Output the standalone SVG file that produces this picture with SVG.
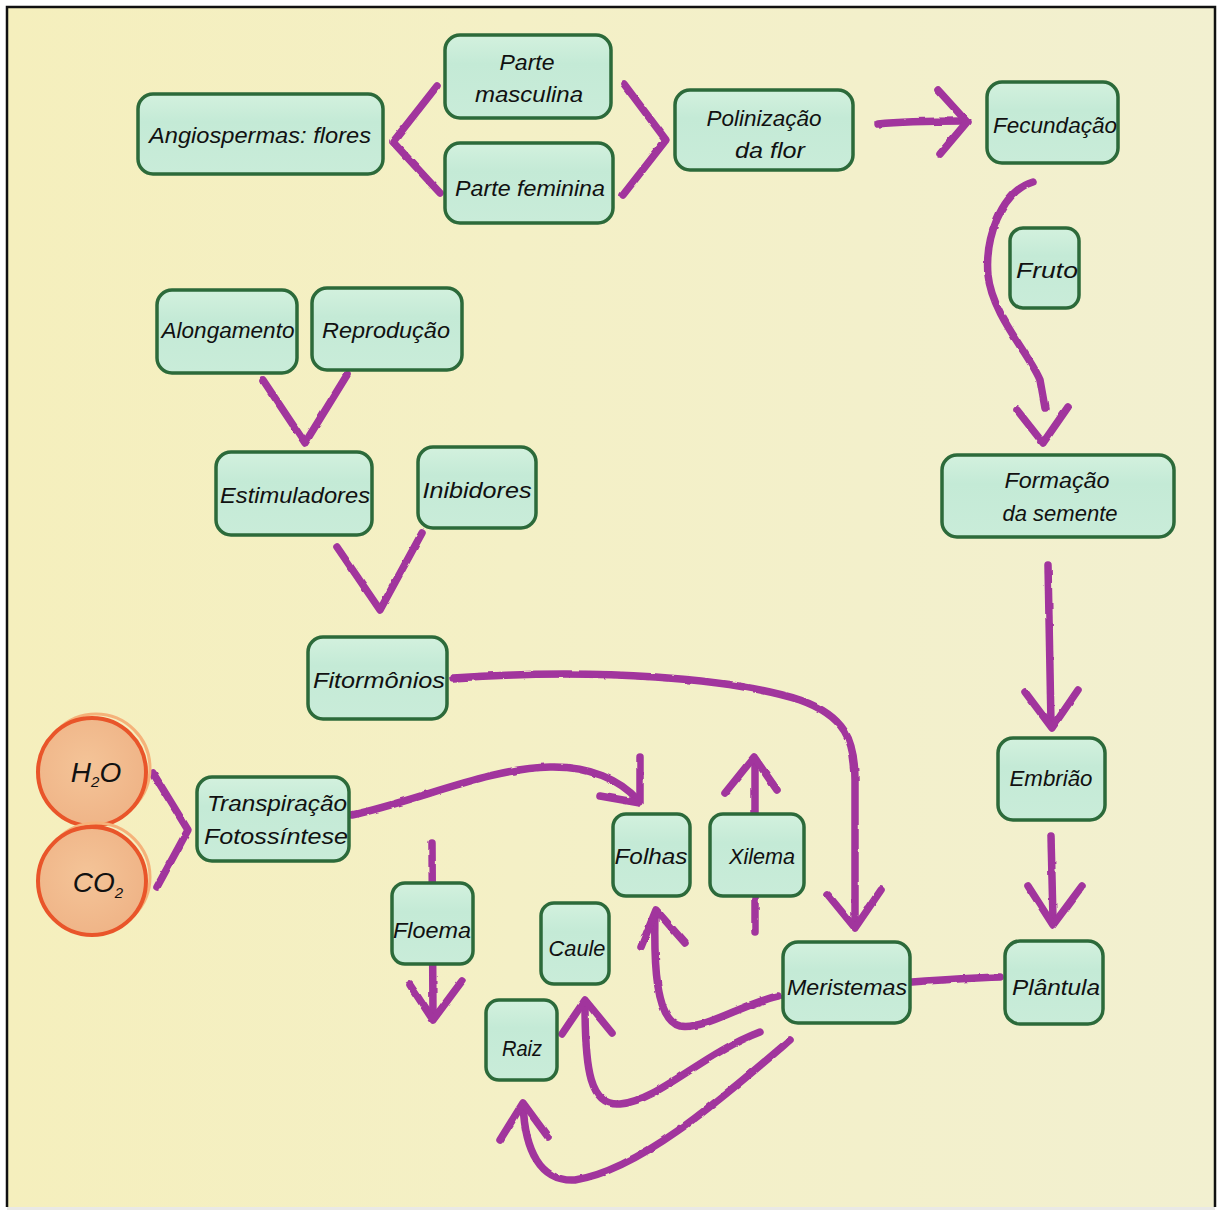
<svg xmlns="http://www.w3.org/2000/svg" width="1218" height="1210" viewBox="0 0 1218 1210">
  <defs>
    <linearGradient id="paper" x1="0" y1="0" x2="1" y2="0">
      <stop offset="0" stop-color="#f5efbd"/>
      <stop offset="0.42" stop-color="#f4f0c6"/>
      <stop offset="1" stop-color="#f2f0d0"/>
    </linearGradient>
    <linearGradient id="mint" x1="0" y1="0" x2="0" y2="1">
      <stop offset="0" stop-color="#d3f1de"/>
      <stop offset="0.35" stop-color="#c4ead6"/>
      <stop offset="1" stop-color="#c9ecd9"/>
    </linearGradient>
    <radialGradient id="peach" cx="0.45" cy="0.45" r="0.6">
      <stop offset="0" stop-color="#f4c498"/>
      <stop offset="1" stop-color="#efb386"/>
    </radialGradient>
    <filter id="rough" x="-5%" y="-5%" width="110%" height="110%">
      <feTurbulence type="fractalNoise" baseFrequency="0.09" numOctaves="2" seed="3"/>
      <feDisplacementMap in="SourceGraphic" scale="2.5" xChannelSelector="R" yChannelSelector="G"/>
    </filter>
  </defs>
  <style>
    .conn path { fill: none; stroke: #a1349d; stroke-width: 7.5; stroke-linecap: round; stroke-linejoin: round; }
    .node rect { fill: url(#mint); stroke: #2c6a3a; stroke-width: 3.5; }
    .node text, .gas text { font-family: "Liberation Sans", "DejaVu Sans", sans-serif; font-style: italic; font-size: 22px; fill: #111; text-anchor: middle; dominant-baseline: central; }
    .gas text { font-size: 28px; }
    .gas tspan.sub { font-size: 15px; }
    .gas circle.ring { fill: url(#peach); stroke: #e9552a; stroke-width: 4; }
    .gas circle.halo { fill: none; stroke: #f5b27a; stroke-width: 3; }
  </style>

  <!-- page -->
  <rect x="0" y="0" width="1218" height="1210" fill="#ffffff"/>
  <rect x="7" y="7" width="1208" height="1200" fill="url(#paper)"/>
  <rect x="7" y="1207" width="1208" height="3" fill="#e9e9e6"/>
  <path d="M7,1207 L7,7 L1215,7 L1215,1207" fill="none" stroke="#111" stroke-width="2.5"/>

  <!-- connectors -->
  <g id="connectors" class="conn" filter="url(#rough)">
    <path d="M437,86 L393,142 L440,193"/>
    <path d="M624,84 L666,140 L623,195"/>
    <path d="M878,124 C905,121 935,121 964,121"/>
    <path d="M938,90 L967,122 L940,154"/>
    <path d="M1033,182 C1000,192 985,240 988,275 C992,315 1030,355 1040,380 L1045,408"/>
    <path d="M1017,410 L1043,443 L1068,407"/>
    <path d="M263,380 L305,443 L347,375"/>
    <path d="M337,547 L380,610 L422,533"/>
    <path d="M1048,565 L1051,724"/>
    <path d="M1025,692 L1052,728 L1078,690"/>
    <path d="M1051,836 L1053,920"/>
    <path d="M1028,886 L1053,925 L1082,886"/>
    <path d="M1000,977 C970,978 940,980 912,982"/>
    <path d="M153,773 L188,830 L157,887"/>
    <path d="M352,815 C420,800 490,768 550,767 C590,766 620,780 638,800"/>
    <path d="M640,757 L640,803 L600,796"/>
    <path d="M453,678 C600,668 730,678 800,700 C845,716 855,740 855,780 L855,925"/>
    <path d="M828,895 L855,928 L881,890"/>
    <path d="M755,932 L755,760"/>
    <path d="M725,793 L754,757 L777,790"/>
    <path d="M432,843 L433,1018"/>
    <path d="M410,985 L433,1020 L462,981"/>
    <path d="M778,996 C740,1005 705,1030 680,1026 C655,1020 654,960 655,915"/>
    <path d="M641,947 L656,910 L685,943"/>
    <path d="M760,1032 C700,1055 660,1100 620,1104 C590,1106 585,1070 585,1005"/>
    <path d="M562,1034 L585,1000 L612,1033"/>
    <path d="M790,1040 C720,1100 640,1170 575,1180 C540,1182 525,1150 523,1105"/>
    <path d="M500,1140 L523,1103 L548,1137"/>
  </g>

  <!-- flower branch -->
  <g id="angiospermas" class="node"><rect x="138" y="94" width="245" height="80" rx="15"/><text x="260" y="135" textLength="222" lengthAdjust="spacingAndGlyphs">Angiospermas: flores</text></g>
  <g id="parte-masculina" class="node"><rect x="445" y="35" width="166" height="83" rx="15"/><text x="527" y="62" textLength="55" lengthAdjust="spacingAndGlyphs">Parte</text><text x="529" y="94" textLength="108" lengthAdjust="spacingAndGlyphs">masculina</text></g>
  <g id="parte-feminina" class="node"><rect x="445" y="143" width="168" height="80" rx="15"/><text x="530" y="188" textLength="150" lengthAdjust="spacingAndGlyphs">Parte feminina</text></g>
  <g id="polinizacao" class="node"><rect x="675" y="90" width="178" height="80" rx="15"/><text x="764" y="118" textLength="115" lengthAdjust="spacingAndGlyphs">Polinização</text><text x="770" y="150" textLength="70" lengthAdjust="spacingAndGlyphs">da flor</text></g>
  <g id="fecundacao" class="node"><rect x="987" y="82" width="131" height="81" rx="15"/><text x="1055" y="125" textLength="124" lengthAdjust="spacingAndGlyphs">Fecundação</text></g>
  <g id="fruto" class="node"><rect x="1010" y="228" width="69" height="80" rx="13"/><text x="1047" y="270" textLength="62" lengthAdjust="spacingAndGlyphs">Fruto</text></g>

  <!-- hormones branch -->
  <g id="alongamento" class="node"><rect x="157" y="290" width="140" height="83" rx="15"/><text x="228" y="330" textLength="133" lengthAdjust="spacingAndGlyphs">Alongamento</text></g>
  <g id="reproducao" class="node"><rect x="312" y="288" width="150" height="82" rx="15"/><text x="386" y="330" textLength="128" lengthAdjust="spacingAndGlyphs">Reprodução</text></g>
  <g id="estimuladores" class="node"><rect x="216" y="452" width="156" height="83" rx="15"/><text x="295" y="495" textLength="150" lengthAdjust="spacingAndGlyphs">Estimuladores</text></g>
  <g id="inibidores" class="node"><rect x="418" y="447" width="118" height="81" rx="15"/><text x="477" y="490" textLength="109" lengthAdjust="spacingAndGlyphs">Inibidores</text></g>
  <g id="fitormonios" class="node"><rect x="308" y="637" width="139" height="82" rx="15"/><text x="379" y="680" textLength="132" lengthAdjust="spacingAndGlyphs">Fitormônios</text></g>

  <!-- seed branch -->
  <g id="formacao-semente" class="node"><rect x="942" y="455" width="232" height="82" rx="15"/><text x="1057" y="480" textLength="105" lengthAdjust="spacingAndGlyphs">Formação</text><text x="1060" y="513" textLength="115" lengthAdjust="spacingAndGlyphs">da semente</text></g>
  <g id="embriao" class="node"><rect x="998" y="738" width="107" height="82" rx="15"/><text x="1051" y="778" textLength="83" lengthAdjust="spacingAndGlyphs">Embrião</text></g>
  <g id="plantula" class="node"><rect x="1005" y="941" width="98" height="83" rx="15"/><text x="1056" y="987" textLength="88" lengthAdjust="spacingAndGlyphs">Plântula</text></g>

  <!-- gases -->
  <g id="h2o" class="gas"><circle class="halo" cx="96" cy="768" r="54"/><circle class="ring" cx="92" cy="772" r="54"/><text x="96" y="772">H<tspan class="sub" dy="9">2</tspan><tspan dy="-9">O</tspan></text></g>
  <g id="co2" class="gas"><circle class="halo" cx="96" cy="877" r="54"/><circle class="ring" cx="92" cy="881" r="54"/><text x="98" y="882">CO<tspan class="sub" dy="10">2</tspan></text></g>

  <!-- plant body -->
  <g id="transpiracao" class="node"><rect x="197" y="777" width="152" height="84" rx="15"/><text x="277" y="803" textLength="140" lengthAdjust="spacingAndGlyphs">Transpiração</text><text x="276" y="836" textLength="144" lengthAdjust="spacingAndGlyphs">Fotossíntese</text></g>
  <g id="folhas" class="node"><rect x="613" y="814" width="77" height="82" rx="13"/><text x="651" y="856" textLength="73" lengthAdjust="spacingAndGlyphs">Folhas</text></g>
  <g id="xilema" class="node"><rect x="710" y="814" width="94" height="82" rx="13"/><text x="762" y="856" textLength="66" lengthAdjust="spacingAndGlyphs">Xilema</text></g>
  <g id="floema" class="node"><rect x="392" y="883" width="81" height="81" rx="13"/><text x="432" y="930" textLength="78" lengthAdjust="spacingAndGlyphs">Floema</text></g>
  <g id="caule" class="node"><rect x="541" y="903" width="68" height="81" rx="13"/><text x="577" y="948" textLength="57" lengthAdjust="spacingAndGlyphs">Caule</text></g>
  <g id="raiz" class="node"><rect x="486" y="1000" width="71" height="80" rx="13"/><text x="522" y="1048" textLength="40" lengthAdjust="spacingAndGlyphs">Raiz</text></g>
  <g id="meristemas" class="node"><rect x="783" y="942" width="127" height="81" rx="15"/><text x="847" y="987" textLength="120" lengthAdjust="spacingAndGlyphs">Meristemas</text></g>
</svg>
